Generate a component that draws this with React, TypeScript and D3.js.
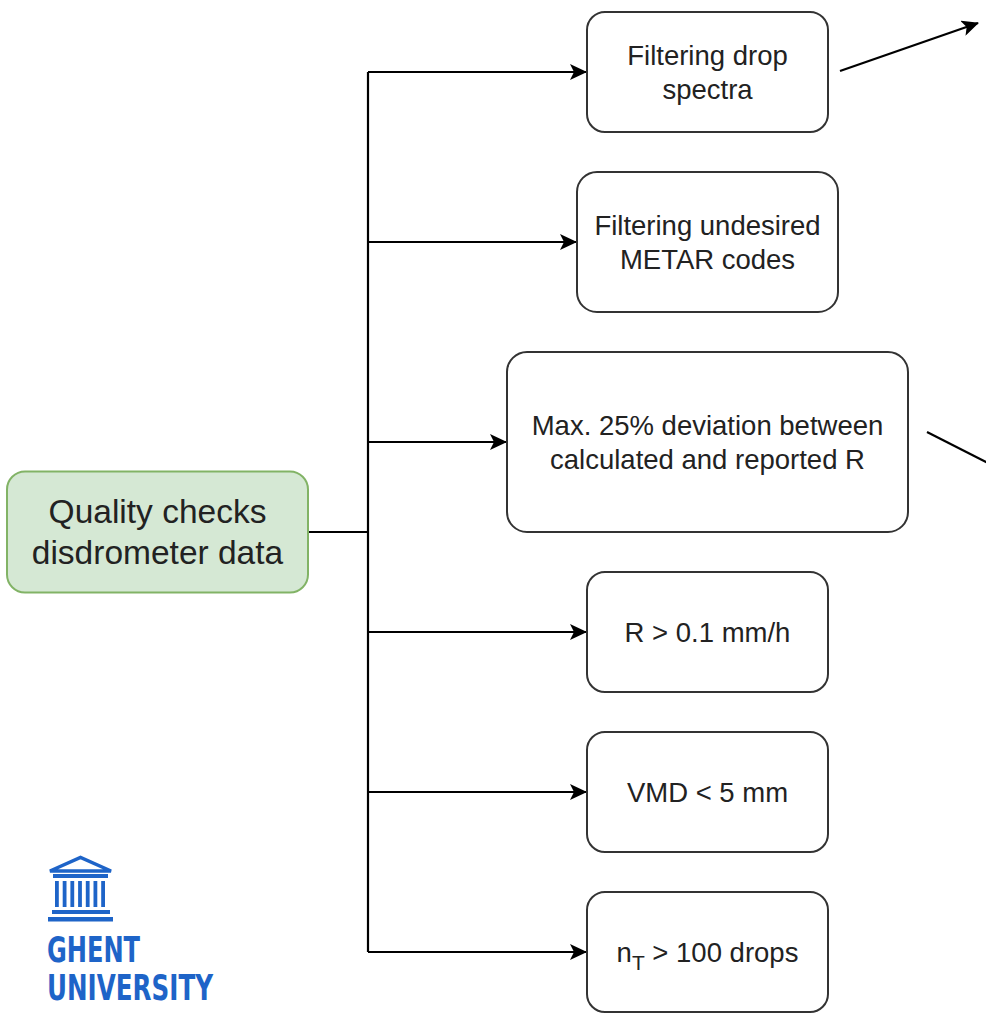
import { useEffect, useRef } from 'react'
import * as d3 from 'd3'

const W = 986
const H = 1016

// check boxes, top to bottom
const checkLines: string[][] = [
  ['Filtering drop', 'spectra'],
  ['Filtering undesired', 'METAR codes'],
  ['Max. 25% deviation between', 'calculated and reported R'],
  ['R > 0.1 mm/h'],
  ['VMD < 5 mm'],
  ['nT > 100 drops'],
]
const checkWidths = [241, 261, 401, 241, 241, 241]
const checkHeights = [120, 140, 180, 120, 120, 120]

const rootLines = ['Quality checks', 'disdrometer data']
const logoLines = ['GHENT', 'UNIVERSITY']

const TOP = 12
const GAP = 40
const CX = 707.5
const TRUNK_X = 368
const ROOT = { x: 7, w: 301, h: 121 }
const UGENT_BLUE = '#1e64c8'
const FONT = '"Liberation Sans", Arial, Helvetica, sans-serif'

export default function App() {
  const svgRef = useRef<SVGSVGElement>(null)

  useEffect(() => {
    if (!svgRef.current) return
    const svg = d3.select(svgRef.current)
    svg.selectAll('*').remove()

    const defs = svg.append('defs')
    defs.append('marker')
      .attr('id', 'arr')
      .attr('markerUnits', 'userSpaceOnUse')
      .attr('viewBox', '0 0 17 16')
      .attr('markerWidth', 17)
      .attr('markerHeight', 16)
      .attr('refX', 16)
      .attr('refY', 8)
      .attr('orient', 'auto')
      .append('path')
      .attr('d', 'M0,0 L17,8 L0,16 L4,8 Z')
      .attr('fill', '#000')

    // box layout from heights
    const tops = checkHeights.map((h, i) => TOP + d3.sum(checkHeights.slice(0, i)) + GAP * i)
    const boxes = checkLines.map((lines, i) => ({
      lines,
      x: CX - checkWidths[i] / 2,
      y: tops[i],
      w: checkWidths[i],
      h: checkHeights[i],
      cy: tops[i] + checkHeights[i] / 2,
    }))

    const rootCy = boxes[2].y + boxes[2].h // root centred on bottom of third box
    const line = d3.line<[number, number]>()

    // connectors
    const g = svg.append('g').attr('fill', 'none').attr('stroke', '#000').attr('stroke-width', 2.2)
    g.append('path').attr('d', line([[ROOT.x + ROOT.w, rootCy], [TRUNK_X, rootCy]]))
    g.append('path').attr('d', line([[TRUNK_X, boxes[0].cy], [TRUNK_X, boxes[5].cy]]))
    boxes.forEach((b) => {
      g.append('path')
        .attr('d', line([[TRUNK_X, b.cy], [b.x - 1, b.cy]]))
        .attr('marker-end', 'url(#arr)')
    })
    // outgoing edges cut by the frame
    g.append('path')
      .attr('d', line([[boxes[0].x + boxes[0].w + 12, boxes[0].cy - 1], [978, 23]]))
      .attr('marker-end', 'url(#arr)')
    g.append('path')
      .attr('d', line([[boxes[2].x + boxes[2].w + 19, boxes[2].cy - 10], [W + 4, boxes[2].cy + 22]]))

    // root box
    svg.append('rect')
      .attr('x', ROOT.x).attr('y', rootCy - ROOT.h / 2)
      .attr('width', ROOT.w).attr('height', ROOT.h)
      .attr('rx', 18)
      .attr('fill', '#d5e8d4').attr('stroke', '#82b366').attr('stroke-width', 2)
    rootLines.forEach((t, i) => {
      svg.append('text')
        .attr('x', ROOT.x + ROOT.w / 2)
        .attr('y', rootCy + (i - (rootLines.length - 1) / 2) * 41)
        .attr('dy', '0.35em')
        .attr('text-anchor', 'middle')
        .attr('font-family', FONT)
        .attr('font-size', 33.5)
        .attr('fill', '#222')
        .text(t)
    })

    // check boxes
    const bg = svg.append('g').selectAll('g').data(boxes).join('g')
    bg.append('rect')
      .attr('x', (b) => b.x).attr('y', (b) => b.y)
      .attr('width', (b) => b.w).attr('height', (b) => b.h)
      .attr('rx', (b) => Math.min(b.h * 0.15, 20))
      .attr('fill', '#fff').attr('stroke', '#333').attr('stroke-width', 2)

    bg.each(function (b) {
      const sel = d3.select(this)
      b.lines.forEach((t, i) => {
        const txt = sel.append('text')
          .attr('x', CX)
          .attr('y', b.cy + (i - (b.lines.length - 1) / 2) * 34)
          .attr('dy', '0.35em')
          .attr('text-anchor', 'middle')
          .attr('font-family', FONT)
          .attr('font-size', 27.5)
          .attr('fill', '#222')
        if (t.startsWith('nT')) {
          txt.append('tspan').text('n')
          txt.append('tspan').attr('font-size', 21).attr('dy', 8).text('T')
          txt.append('tspan').attr('dy', -8).text(t.slice(2))
        } else {
          txt.text(t)
        }
      })
    })

    // logo
    const logo = svg.append('g').attr('fill', UGENT_BLUE)
    logo.append('path')
      .attr('d', 'M50,871 L80.5,857.5 L111,871 Z')
      .attr('fill', 'none').attr('stroke', UGENT_BLUE).attr('stroke-width', 3.5)
      .attr('stroke-linejoin', 'miter')
    logo.append('rect').attr('x', 53).attr('y', 874).attr('width', 55).attr('height', 4)
    d3.range(7).forEach((i) => {
      logo.append('rect').attr('x', 55 + i * 7.7).attr('y', 881).attr('width', 3.8).attr('height', 26)
    })
    logo.append('rect').attr('x', 52).attr('y', 910).attr('width', 58).attr('height', 4)
    logo.append('rect').attr('x', 48).attr('y', 917).attr('width', 65).attr('height', 4.5)

    const logoLen = [93, 166]
    logoLines.forEach((t, i) => {
      logo.append('text')
        .attr('x', 47)
        .attr('y', 962 + i * 37.5)
        .attr('font-family', '"DejaVu Sans Condensed", "Liberation Sans Narrow", "Liberation Sans", sans-serif')
        .attr('font-size', 35)
        .attr('font-weight', 'bold')
        .attr('textLength', logoLen[i])
        .attr('lengthAdjust', 'spacingAndGlyphs')
        .text(t)
    })
  }, [])

  return (
    <svg
      ref={svgRef}
      width={W}
      height={H}
      style={{ position: 'absolute', left: 0, top: 0, background: '#fff' }}
    />
  )
}
